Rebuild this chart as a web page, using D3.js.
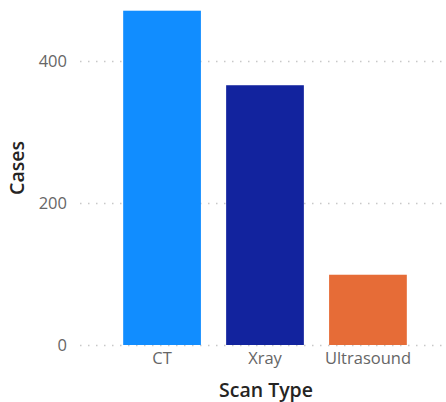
<!DOCTYPE html>
<html>
<head>
<meta charset="utf-8">
<script src="https://cdn.jsdelivr.net/npm/d3@7"></script>
<style>
  body { margin: 0; background: #fff; }
  svg { display: block; font-family: "Open Sans", "Noto Sans", sans-serif; }
</style>
</head>
<body>
<svg id="chart" width="446" height="402"></svg>
<script>
var categories = ["CT", "Xray", "Ultrasound"];
var cases = [471, 366, 99];
var barColors = ["#118dff", "#12239e", "#e66c37"];
var yTicks = [0, 200, 400];

var svg = d3.select("#chart");

var x = d3.scaleBand()
  .domain(categories)
  .range([82, 448])
  .paddingInner(0.245)
  .paddingOuter(0.40);

var y = d3.scaleLinear()
  .domain([0, 472])
  .range([345, 10]);

// dotted gridlines
svg.append("g")
  .selectAll("line")
  .data(yTicks)
  .join("line")
  .attr("x1", 80)
  .attr("x2", 446)
  .attr("y1", function(d) { return y(d) + 0.5; })
  .attr("y2", function(d) { return y(d) + 0.5; })
  .attr("stroke", "#c8c8c8")
  .attr("stroke-width", 1.5)
  .attr("stroke-dasharray", "1.5,6.5");

// bars
svg.append("g")
  .selectAll("rect")
  .data(categories)
  .join("rect")
  .attr("x", function(d) { return x(d); })
  .attr("y", function(d, i) { return y(cases[i]); })
  .attr("width", x.bandwidth())
  .attr("height", function(d, i) { return y(0) - y(cases[i]); })
  .attr("fill", function(d, i) { return barColors[i]; });

// y axis labels
var yAxis = svg.append("g")
  .attr("transform", "translate(67,0)")
  .call(d3.axisLeft(y).tickValues(yTicks).tickSize(0).tickPadding(0));
yAxis.select(".domain").remove();
yAxis.selectAll("text")
  .attr("fill", "#666666")
  .style("font-size", "16.5px")
  .style("font-family", "'Open Sans', sans-serif");

// x axis labels
var xAxis = svg.append("g")
  .attr("transform", "translate(0,352)")
  .call(d3.axisBottom(x).tickSize(0).tickPadding(0));
xAxis.select(".domain").remove();
xAxis.selectAll("text")
  .attr("fill", "#666666")
  .attr("dy", "0.75em")
  .style("font-size", "16.5px")
  .style("font-family", "'Open Sans', sans-serif");

// axis titles
svg.append("text")
  .attr("x", 266)
  .attr("y", 397)
  .attr("text-anchor", "middle")
  .attr("fill", "#252423")
  .style("font-size", "19.5px")
  .style("font-weight", 600)
  .text("Scan Type");

svg.append("text")
  .attr("transform", "translate(24,168) rotate(-90)")
  .attr("text-anchor", "middle")
  .attr("fill", "#252423")
  .style("font-size", "19.5px")
  .style("font-weight", 600)
  .text("Cases");
</script>
</body>
</html>
